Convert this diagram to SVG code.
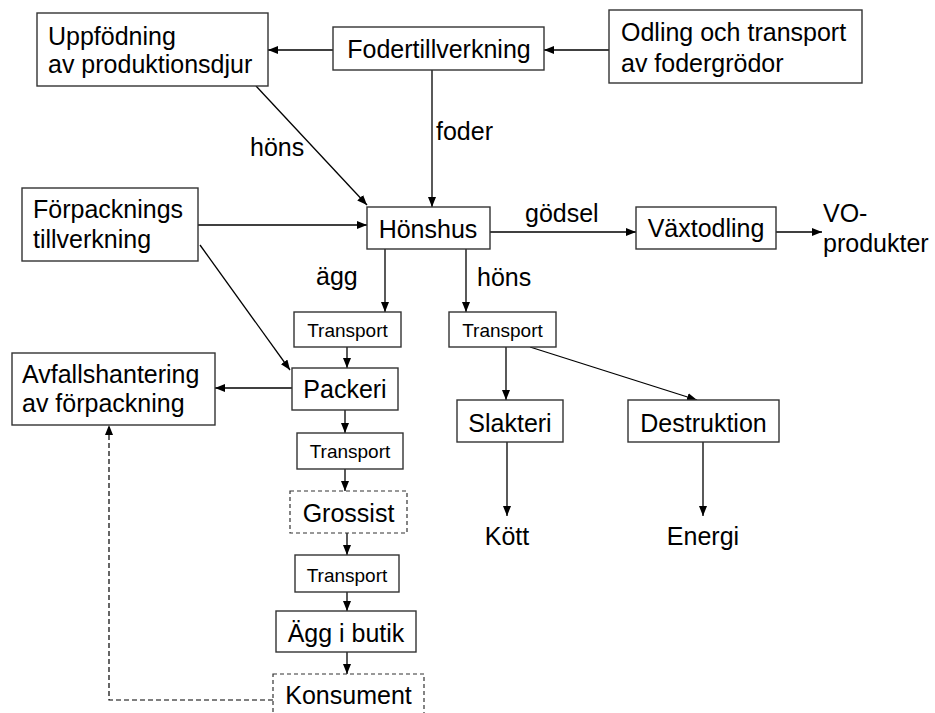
<svg xmlns="http://www.w3.org/2000/svg" width="935" height="713" viewBox="0 0 935 713">
<style>
.box{fill:#fff;stroke:#333;stroke-width:1.4}
.dash{fill:#fff;stroke:#333;stroke-width:1.2;stroke-dasharray:4 3}
.t{font-family:"Liberation Sans",Arial,sans-serif;font-size:25px;fill:#000}
.s{font-family:"Liberation Sans",Arial,sans-serif;font-size:19px;fill:#000}
.m{text-anchor:middle}
.c{fill:none;stroke:#000;stroke-width:1.3}
.cd{fill:none;stroke:#000;stroke-width:1.2;stroke-dasharray:5 3}
</style>
<defs>
<marker id="ah" viewBox="0 0 10 8" refX="10" refY="4" markerWidth="10" markerHeight="8" markerUnits="userSpaceOnUse" orient="auto">
<path d="M0,0 L10,4 L0,8 z" fill="#000"/>
</marker>
</defs>
<rect width="935" height="713" fill="#fff"/>
<g id="connectors">
<line class="c" x1="333" y1="50" x2="268" y2="50" marker-end="url(#ah)"/>
<line class="c" x1="609" y1="50" x2="544" y2="50" marker-end="url(#ah)"/>
<line class="c" x1="256" y1="86" x2="367" y2="205" marker-end="url(#ah)"/>
<line class="c" x1="432" y1="70" x2="432" y2="207" marker-end="url(#ah)"/>
<line class="c" x1="198" y1="225" x2="367" y2="225" marker-end="url(#ah)"/>
<line class="c" x1="200" y1="245" x2="290" y2="370" marker-end="url(#ah)"/>
<line class="c" x1="490" y1="232" x2="636" y2="232" marker-end="url(#ah)"/>
<line class="c" x1="776" y1="232" x2="822" y2="232" marker-end="url(#ah)"/>
<line class="c" x1="385" y1="249" x2="385" y2="312" marker-end="url(#ah)"/>
<line class="c" x1="466" y1="249" x2="466" y2="312" marker-end="url(#ah)"/>
<line class="c" x1="347" y1="347" x2="347" y2="368" marker-end="url(#ah)"/>
<line class="c" x1="292" y1="388" x2="215" y2="388" marker-end="url(#ah)"/>
<line class="c" x1="345" y1="410" x2="345" y2="433" marker-end="url(#ah)"/>
<line class="c" x1="345" y1="469" x2="345" y2="491" marker-end="url(#ah)"/>
<line class="c" x1="347" y1="533" x2="347" y2="555" marker-end="url(#ah)"/>
<line class="c" x1="347" y1="592" x2="347" y2="611" marker-end="url(#ah)"/>
<line class="c" x1="347" y1="652" x2="347" y2="674" marker-end="url(#ah)"/>
<line class="c" x1="506" y1="347" x2="506" y2="400" marker-end="url(#ah)"/>
<line class="c" x1="530" y1="347" x2="697" y2="400" marker-end="url(#ah)"/>
<line class="c" x1="507" y1="442" x2="507" y2="516" marker-end="url(#ah)"/>
<line class="c" x1="703" y1="442" x2="703" y2="516" marker-end="url(#ah)"/>
<path class="cd" d="M273,700 H109 V425" marker-end="url(#ah)"/>
<text class="t" x="250" y="156">höns</text>
<text class="t" x="436" y="140">foder</text>
<text class="t" x="525" y="222">gödsel</text>
<text class="t" x="316" y="285">ägg</text>
<text class="t" x="477" y="286">höns</text>
</g>
<g id="uppfodning"><rect class="box" x="37" y="13" width="231" height="73"/><text class="t" x="48" y="45">Uppfödning</text><text class="t" x="48" y="73">av produktionsdjur</text></g>
<g id="fodertillverkning"><rect class="box" x="333" y="27" width="211" height="43"/><text class="t m" x="439" y="58">Fodertillverkning</text></g>
<g id="odling"><rect class="box" x="609" y="10" width="253" height="73"/><text class="t" x="621" y="41">Odling och transport</text><text class="t" x="621" y="72">av fodergrödor</text></g>
<g id="forpackningstillverkning"><rect class="box" x="22" y="188" width="176" height="73"/><text class="t" x="33" y="218">Förpacknings</text><text class="t" x="33" y="248">tillverkning</text></g>
<g id="honshus"><rect class="box" x="367" y="207" width="123" height="42"/><text class="t m" x="428" y="238">Hönshus</text></g>
<g id="vaxtodling"><rect class="box" x="636" y="207" width="140" height="42"/><text class="t m" x="706" y="237">Växtodling</text></g>
<g id="vo-produkter"><text class="t" x="823" y="222">VO-</text><text class="t" x="823" y="252">produkter</text></g>
<g id="transport1"><rect class="box" x="294" y="312" width="107" height="35"/><text class="s m" x="347.5" y="337">Transport</text></g>
<g id="transport2"><rect class="box" x="449" y="312" width="107" height="35"/><text class="s m" x="502.5" y="337">Transport</text></g>
<g id="avfallshantering"><rect class="box" x="12" y="353" width="203" height="72"/><text class="t" x="22" y="383">Avfallshantering</text><text class="t" x="22" y="412">av förpackning</text></g>
<g id="packeri"><rect class="box" x="292" y="368" width="106" height="42"/><text class="t m" x="345" y="398">Packeri</text></g>
<g id="slakteri"><rect class="box" x="457" y="400" width="106" height="42"/><text class="t m" x="510" y="432">Slakteri</text></g>
<g id="destruktion"><rect class="box" x="628" y="400" width="151" height="42"/><text class="t m" x="703.5" y="432">Destruktion</text></g>
<g id="kott"><text class="t m" x="507" y="545">Kött</text></g>
<g id="energi"><text class="t m" x="703" y="545">Energi</text></g>
<g id="transport3"><rect class="box" x="297" y="433" width="106" height="36"/><text class="s m" x="350" y="458">Transport</text></g>
<g id="grossist"><rect class="dash" x="290" y="491" width="117" height="42"/><text class="t m" x="348.5" y="522">Grossist</text></g>
<g id="transport4"><rect class="box" x="295" y="555" width="104" height="37"/><text class="s m" x="347" y="582">Transport</text></g>
<g id="agg-i-butik"><rect class="box" x="276" y="611" width="140" height="41"/><text class="t m" x="346" y="642">Ägg i butik</text></g>
<g id="konsument"><rect class="dash" x="273" y="674" width="151" height="50"/><text class="t m" x="348.5" y="704">Konsument</text></g>
</svg>
